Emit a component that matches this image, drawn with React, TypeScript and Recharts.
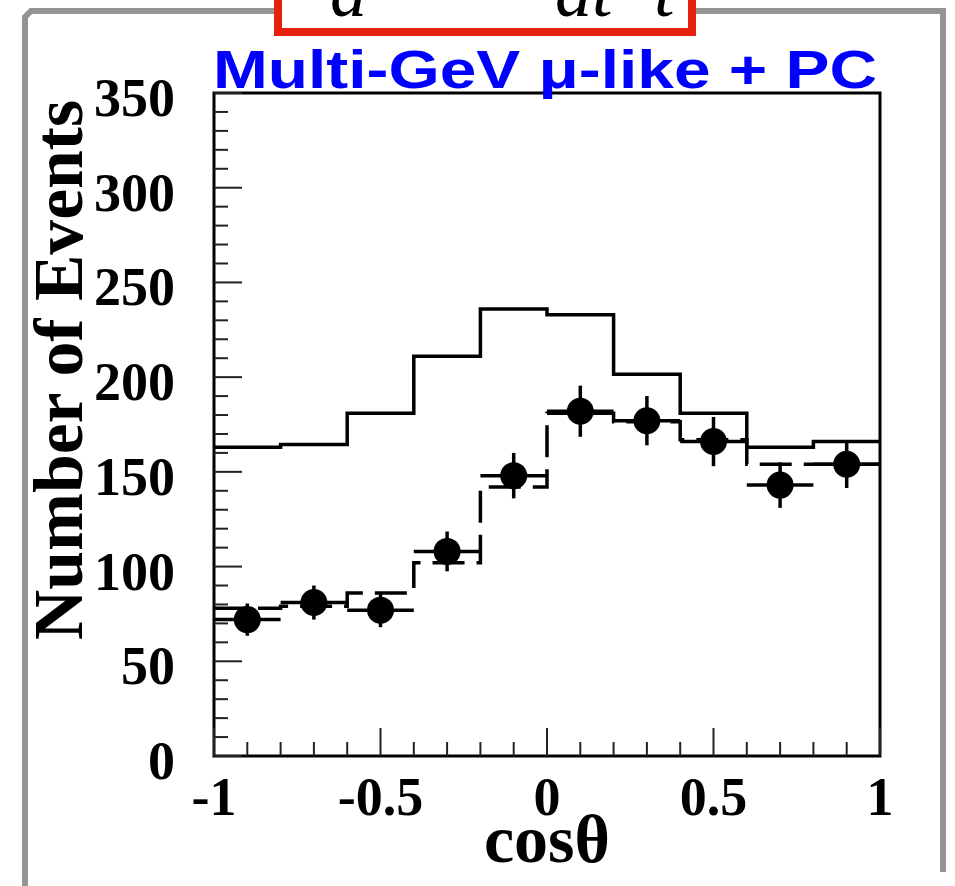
import React from "react";
import {
  ComposedChart,
  Line,
  Scatter,
  XAxis,
  YAxis,
  ErrorBar,
  ReferenceArea,
} from "recharts";

// bin edges of cos(theta), 10 bins of width 0.2
const binEdges = [-1, -0.8, -0.6, -0.4, -0.2, 0, 0.2, 0.4, 0.6, 0.8, 1];
const binCenters = [-0.9, -0.7, -0.5, -0.3, -0.1, 0.1, 0.3, 0.5, 0.7, 0.9];

// MC without oscillation (solid)
const noOscillation = [163, 164.5, 181, 211, 236, 233, 201.5, 181, 163, 166];
// MC with oscillation (dashed)
const withOscillation = [78, 79, 86, 102, 142, 181, 176.5, 167, 154, 154];
// observed data with errors
const observed = [72, 81, 77, 108, 148, 182, 177, 166, 143, 154];
const observedErr = [8.5, 9, 9, 10.5, 12, 13.5, 13, 13, 12, 12.5];
const binHalfWidth = 0.1;

const xTicks = [
  -1, -0.9, -0.8, -0.7, -0.6, -0.5, -0.4, -0.3, -0.2, -0.1, 0, 0.1, 0.2, 0.3,
  0.4, 0.5, 0.6, 0.7, 0.8, 0.9, 1,
];
const xLabels = [-1, -0.5, 0, 0.5, 1];
const yTicks = [
  0, 10, 20, 30, 40, 50, 60, 70, 80, 90, 100, 110, 120, 130, 140, 150, 160,
  170, 180, 190, 200, 210, 220, 230, 240, 250, 260, 270, 280, 290, 300, 310,
  320, 330, 340, 350,
];
const yLabels = [0, 50, 100, 150, 200, 250, 300, 350];

const title = "Multi-GeV \u03bc-like + PC";
const xTitle = "cos\u03b8";
const yTitle = "Number of Events";

const SERIF = "'Liberation Serif', 'Times New Roman', serif";
const SANS = "'Liberation Sans', Arial, sans-serif";

const stepData = (vals: number[]) =>
  binEdges.map((x, i) => ({ x, mc: vals[Math.min(i, vals.length - 1)] }));

const points = binCenters.map((x, i) => ({
  x,
  y: observed[i],
  ex: binHalfWidth,
  ey: observedErr[i],
}));

const isMajor = (list: number[], v: number) =>
  list.some((m) => Math.abs(m - v) < 1e-6);

function YTick(props: any) {
  const { x, y, payload } = props;
  const major = isMajor(yLabels, payload.value);
  return (
    <g>
      <line x1={x} y1={y} x2={x + (major ? 28 : 14)} y2={y} stroke="#222" strokeWidth={2} />
      {major && (
        <text
          x={x - 39}
          y={y + 23}
          textAnchor="end"
          fontFamily={SERIF}
          fontWeight="bold"
          fontSize={54}
          fill="#000"
        >
          {String(payload.value)}
        </text>
      )}
    </g>
  );
}

function XTick(props: any) {
  const { x, y, payload } = props;
  const major = isMajor(xLabels, payload.value);
  const label = String(Math.round(payload.value * 10) / 10);
  return (
    <g>
      <line x1={x} y1={y} x2={x} y2={y - (major ? 28 : 14)} stroke="#222" strokeWidth={2} />
      {major && (
        <text
          x={x}
          y={y + 59}
          textAnchor="middle"
          fontFamily={SERIF}
          fontWeight="bold"
          fontSize={54}
          fill="#000"
        >
          {label}
        </text>
      )}
    </g>
  );
}

function DataDot(props: any) {
  const { cx, cy } = props;
  if (cx == null || cy == null) return null;
  return <circle cx={cx} cy={cy} r={13.5} fill="#000" />;
}

export default function App() {
  return (
    <div
      style={{
        position: "absolute",
        left: 0,
        top: 0,
        width: 955,
        height: 886,
        background: "#fff",
        overflow: "hidden",
      }}
    >
      <ComposedChart
        width={955}
        height={886}
        margin={{ top: 93, right: 75, left: 114, bottom: 70 }}
      >
        <XAxis
          dataKey="x"
          type="number"
          domain={[-1, 1]}
          ticks={xTicks}
          interval={0}
          height={60}
          axisLine={false}
          tickLine={false}
          tickSize={0}
          tickMargin={0}
          tick={<XTick />}
          allowDataOverflow
        />
        <YAxis
          type="number"
          domain={[0, 350]}
          ticks={yTicks}
          interval={0}
          width={100}
          axisLine={false}
          tickLine={false}
          tickSize={0}
          tickMargin={0}
          tick={<YTick />}
          allowDataOverflow
        />
        <Line
          data={stepData(noOscillation)}
          dataKey="mc"
          type="stepAfter"
          stroke="#000"
          strokeWidth={3.5}
          dot={false}
          activeDot={false}
          isAnimationActive={false}
        />
        <Line
          data={stepData(withOscillation)}
          dataKey="mc"
          type="stepAfter"
          stroke="#000"
          strokeWidth={3.5}
          strokeDasharray="32 12"
          dot={false}
          activeDot={false}
          isAnimationActive={false}
        />
        <Scatter
          data={points}
          dataKey="y"
          fill="#000"
          shape={<DataDot />}
          isAnimationActive={false}
        >
          <ErrorBar dataKey="ex" direction="x" width={0} stroke="#000" strokeWidth={3.5} />
          <ErrorBar dataKey="ey" direction="y" width={0} stroke="#000" strokeWidth={3.5} />
        </Scatter>
        <ReferenceArea
          x1={-1}
          x2={1}
          y1={0}
          y2={350}
          fill="none"
          fillOpacity={0}
          stroke="#000"
          strokeWidth={3}
        />
      </ComposedChart>

      <svg
        width={955}
        height={886}
        style={{ position: "absolute", left: 0, top: 0, pointerEvents: "none" }}
      >
        {/* slide frame */}
        <path
          d="M25 886 L25 17 L31 11 L943 11 L943 872"
          fill="none"
          stroke="#949494"
          strokeWidth={6}
        />
        {/* cut-off formula box */}
        <rect x={278} y={-40} width={414} height={72} fill="#fff" stroke="#e8210f" strokeWidth={8} />
        <g fontFamily={SERIF} fontStyle="italic" fontSize={74} fill="#000">
          <text x={330} y={16}>d</text>
          <text x={555} y={16}>dt</text>
          <text x={654} y={16}>t</text>
        </g>

        <text
          x={213}
          y={88}
          fontFamily={SANS}
          fontWeight="bold"
          fontSize={53}
          fill="#0000ff"
          textLength={664}
          lengthAdjust="spacingAndGlyphs"
        >
          {title}
        </text>

        <text
          x={547}
          y={862}
          textAnchor="middle"
          fontFamily={SERIF}
          fontWeight="bold"
          fontSize={68}
          fill="#000"
        >
          {xTitle}
        </text>

        <text
          x={82}
          y={370}
          transform="rotate(-90 82 370)"
          textAnchor="middle"
          fontFamily={SERIF}
          fontWeight="bold"
          fontSize={69}
          fill="#000"
          textLength={540}
          lengthAdjust="spacingAndGlyphs"
        >
          {yTitle}
        </text>
      </svg>
    </div>
  );
}
